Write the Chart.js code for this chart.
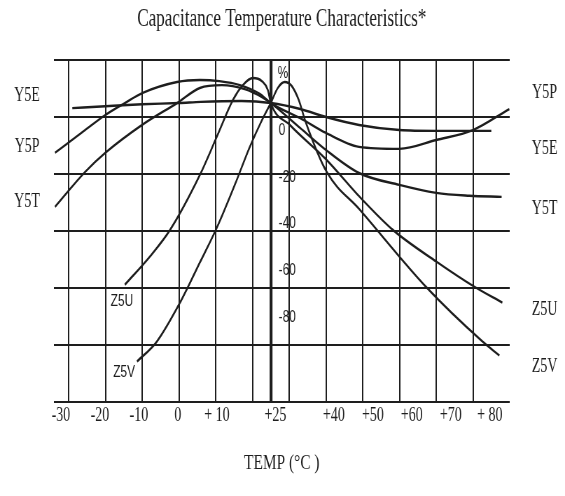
<!DOCTYPE html>
<html><head><meta charset="utf-8">
<style>
html,body{margin:0;padding:0;overflow:hidden;background:#fff;}
#wrap{width:807px;height:496px;transform:scaleX(0.70012);transform-origin:0 0;}
</style>
<script src="https://cdn.jsdelivr.net/npm/chart.js@4"></script>
</head><body>
<div id="wrap"><canvas id="c" width="807" height="496"></canvas></div>
<script>
// ---- data (temperature °C, capacitance change %) ----
const titleText = 'Capacitance Temperature Characteristics*';
const xTitle = 'TEMP (°C )';
const xTickTemps = [-30, -20, -10, 0, 10, 25, 40, 50, 60, 70, 80];
const xTickText = ['-30', '-20', '-10', '0', '+ 10', '+25', '+40', '+50', '+60', '+70', '+ 80'];
const gridTemps = [-30, -20, -10, 0, 10, 20, 25, 30, 40, 50, 60, 70, 80];
const yTickValues = [0, -20, -40, -60, -80];

const y5eTemp = [-29, -20, -10, 0, 6, 17, 25, 33, 40, 49, 60, 70, 80, 85];
const y5eVal  = [-1.8, -1.1, -0.4, 0, 0.4, 0.7, 0, -2.1, -4.9, -7.7, -9.5, -9.8, -9.8, -9.8];

const y5pTemp = [-33.7, -25.5, -20, -14.7, -10, -0.5, 5.7, 11, 16.6, 22, 25, 33, 40, 49, 60, 70, 80, 89.9];
const y5pVal  = [-17.5, -9.5, -4.2, 0, 3.5, 7.4, 8.1, 7.7, 6.3, 3.2, 0, -5.3, -10.5, -15.4, -16.1, -13, -9.5, -2.1];

const y5tTemp = [-33.7, -25.5, -20, -10, -0.5, 5.7, 11.7, 17.9, 22.6, 25, 33, 40, 49, 60, 70, 79, 87.8];
const y5tVal  = [-36.5, -24.2, -17.5, -7.7, 0, 5.3, 6.3, 4.9, 2.1, 0, -8.8, -16.5, -24.6, -28.8, -31.6, -32.6, -33];

const z5uTemp = [-14.7, -7.9, -2.4, 5.7, 10.3, 14.7, 17.4, 20.1, 22.6, 24.2, 25, 30.2, 40.2, 49.2, 58.2, 70.1, 80.4, 88];
const z5uVal  = [-63.9, -54, -44.6, -25.3, -11.9, 1.1, 6.3, 8.8, 7.7, 4.6, 0, -7.7, -20, -33, -44.6, -55.8, -64.6, -70.2];

const z5vTemp = [-11.4, -6, 0.3, 5.7, 10.3, 15.2, 19.3, 22.6, 25, 26.9, 28.8, 30.7, 32.6, 34.5, 40.2, 49.2, 67.4, 82.6, 87.2];
const z5vVal  = [-90.9, -83.9, -70.2, -56.1, -43.9, -28.8, -15.4, -6, 0, 5.3, 7.4, 6, 1.1, -6.7, -24.2, -37.5, -64.9, -83.9, -88.8];

// ---- styling ----
const INK = '#1e1e1e';
const SERIF = "'Liberation Serif', 'Times New Roman', serif";
const SANS = "'Liberation Sans', Arial, sans-serif";

function pts(t, v) { return t.map((tt, i) => ({x: tt, y: v[i]})); }
function ds(label, t, v) {
  return {label, data: pts(t, v), xAxisID: 'x', yAxisID: 'y', borderColor: INK,
    borderWidth: 2.4, pointRadius: 0, fill: false, cubicInterpolationMode: 'monotone'};
}

// text annotations placed in data coordinates
const notes = [
  {text: 'Y5E', t: -41.3, v: 2.5, font: SERIF, size: 20},
  {text: 'Y5P', t: -41.3, v: -15.4, font: SERIF, size: 20},
  {text: 'Y5T', t: -41.3, v: -34.7, font: SERIF, size: 20},
  {text: 'Y5P', t: 99.5, v: 3.5, font: SERIF, size: 20},
  {text: 'Y5E', t: 99.5, v: -16.1, font: SERIF, size: 20},
  {text: 'Y5T', t: 99.5, v: -37.2, font: SERIF, size: 20},
  {text: 'Z5U', t: 99.5, v: -72.6, font: SERIF, size: 20},
  {text: 'Z5V', t: 99.5, v: -92.6, font: SERIF, size: 20},
  {text: 'Z5U', t: -15.5, v: -69.8, font: SANS, size: 17},
  {text: 'Z5V', t: -14.9, v: -94.7, font: SANS, size: 17},
  {text: '%', t: 28.3, v: 10.5, font: SANS, size: 17}
];
const notePlugin = {
  id: 'notes',
  afterDraw(chart) {
    const {ctx, scales} = chart;
    ctx.save();
    ctx.fillStyle = INK;
    ctx.textAlign = 'center';
    ctx.textBaseline = 'middle';
    notes.forEach(n => {
      ctx.font = n.size + 'px ' + n.font;
      ctx.fillText(n.text, scales.x.getPixelForValue(n.t), scales.y.getPixelForValue(n.v));
    });
    ctx.restore();
  }
};

new Chart(document.getElementById('c'), {
  type: 'line',
  data: {datasets: [
    ds('Y5E', y5eTemp, y5eVal),
    ds('Y5P', y5pTemp, y5pVal),
    ds('Y5T', y5tTemp, y5tVal),
    ds('Z5U', z5uTemp, z5uVal),
    ds('Z5V', z5vTemp, z5vVal)
  ]},
  options: {
    responsive: false,
    animation: false,
    devicePixelRatio: 1,
    layout: {padding: {left: 77, right: 79, top: 0, bottom: 20}},
    plugins: {
      legend: {display: false},
      tooltip: {enabled: false},
      title: {display: true, text: titleText, color: INK,
        font: {family: SERIF, size: 24.5, weight: 'normal'}, padding: {top: 5, bottom: 26}}
    },
    scales: {
      x: {
        type: 'linear', position: 'bottom', min: -34, max: 90,
        afterBuildTicks: s => { s.ticks = gridTemps.map(v => ({value: v})); },
        grid: {color: INK, drawTicks: false,
          lineWidth: c => (c.tick && c.tick.value === 25 ? 4.2 : 2.0)},
        border: {display: false},
        ticks: {display: false}
      },
      xl: {
        type: 'linear', position: 'bottom', min: -31.8, max: 85.1,
        afterBuildTicks: s => { s.ticks = xTickTemps.map(v => ({value: v})); },
        afterFit: s => { s.paddingLeft = 0; s.paddingRight = 0; },
        grid: {display: false},
        border: {display: false},
        ticks: {color: INK, padding: -4, maxRotation: 0, autoSkip: false,
          font: {family: SERIF, size: 20, lineHeight: 1},
          callback: v => { const i = xTickTemps.indexOf(v); return i >= 0 ? xTickText[i] : ''; }},
        title: {display: true, text: xTitle, color: INK,
          font: {family: SERIF, size: 22}, padding: {top: 28, bottom: 0}}
      },
      y: {
        type: 'linear', position: 'left', min: -105, max: 15,
        afterBuildTicks: s => {
          const t = [];
          for (let v = s.max; v >= s.min - 1e-9; v -= 20) t.push({value: v});
          s.ticks = t;
        },
        grid: {color: INK, lineWidth: 2, drawTicks: false},
        border: {display: false},
        ticks: {display: false}
      },
      yl: {
        type: 'linear', position: 'left', min: -116.1, max: 29.8,
        afterBuildTicks: s => { s.ticks = yTickValues.map(v => ({value: v})); },
        afterFit: s => { s.width = 0; s.paddingTop = 0; s.paddingBottom = 0; },
        grid: {display: false},
        border: {display: false},
        ticks: {mirror: true, padding: 321, color: INK, z: 1,
          font: {family: SANS, size: 17},
          callback: v => String(v)}
      }
    }
  },
  plugins: [notePlugin]
});
</script>
</body></html>
